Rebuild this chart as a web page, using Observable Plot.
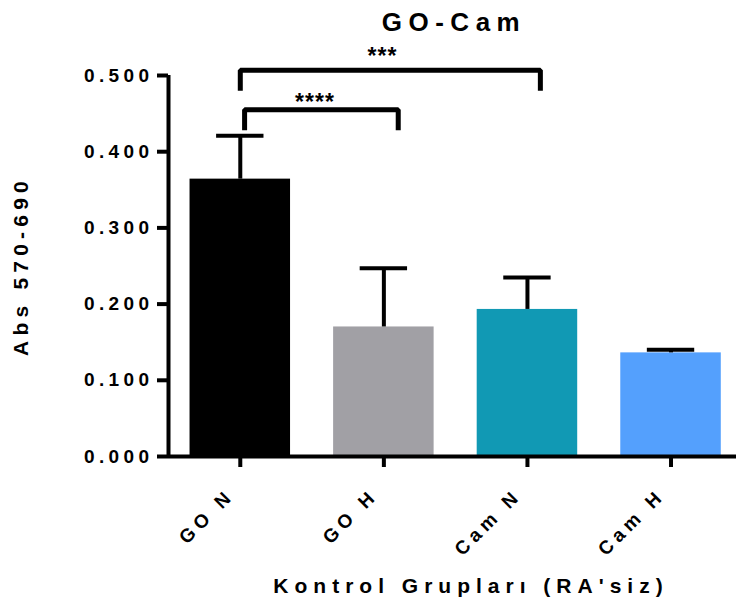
<!DOCTYPE html>
<html>
<head>
<meta charset="utf-8">
<script src="https://cdn.jsdelivr.net/npm/d3@7"></script>
<script src="https://cdn.jsdelivr.net/npm/@observablehq/plot@0.6"></script>
<style>
  html, body { margin: 0; padding: 0; background: #fff; }
  body { width: 736px; height: 616px; overflow: hidden; font-family: "Liberation Sans", Arial, sans-serif; font-weight: bold; color: #000; }
  #title { height: 40px; line-height: 45px; font-size: 26px; letter-spacing: 6.5px; text-align: center; padding-left: 172px; box-sizing: border-box; width: 736px; white-space: nowrap; }
  #chart svg { display: block; }
  #xlabel { height: 56px; line-height: 52px; font-size: 21px; letter-spacing: 6px; text-align: center; padding-left: 206px; box-sizing: border-box; width: 736px; white-space: nowrap; }
  .ylab text { letter-spacing: 5.2px; }
  g[aria-label="y-axis tick label"] text { letter-spacing: 4.4px; }
  .xticklab text { letter-spacing: 5px; }
  .stars text { letter-spacing: 1px; }
</style>
</head>
<body>
<div id="title">GO-Cam</div>
<div id="chart"></div>
<div id="xlabel">Kontrol Grupları (RA'siz)</div>
<script>
// ---- data ----
const categories = ["GO N", "GO H", "Cam N", "Cam H"];
const means = [0.364, 0.170, 0.193, 0.136];
const errors = [0.057, 0.077, 0.042, 0.004];
const barColors = ["#000000", "#a1a0a5", "#1199b4", "#54a0fd"];
const yTicks = [0, 0.1, 0.2, 0.3, 0.4, 0.5];
const yLabel = "Abs 570-690";
// significance brackets (x in group-index units, y in absorbance units)
const bracketLabels = ["***", "****"];
const bracketFrom = [0, 0.03];
const bracketTo = [2.09, 1.1];
const bracketTop = [0.507, 0.455];
const bracketLeg = [0.480, 0.428];
const bracketLabelX = [0.99, 0.52];
const bracketLabelY = [0.525, 0.465];

const bars = categories.map((c, i) => ({i, name: c, mean: means[i], err: errors[i], color: barColors[i]}));
const half = 0.35, capHalf = 0.165;

const bracketPaths = [];
bracketLabels.forEach((lab, k) => {
  bracketPaths.push({k, x: bracketFrom[k], y: bracketLeg[k]});
  bracketPaths.push({k, x: bracketFrom[k], y: bracketTop[k]});
  bracketPaths.push({k, x: bracketTo[k], y: bracketTop[k]});
  bracketPaths.push({k, x: bracketTo[k], y: bracketLeg[k]});
});
const bracketText = bracketLabels.map((lab, k) => ({lab, x: bracketLabelX[k], y: bracketLabelY[k]}));

const cls = (mark, name) => { const r = mark.render; mark.render = function() { const g = r.apply(this, arguments); if (g) g.classList.add(name); return g; }; return mark; };

const plot = Plot.plot({
  width: 736,
  height: 520,
  marginLeft: 168,
  marginRight: 0,
  marginTop: 35,
  marginBottom: 104,
  style: {fontFamily: "Liberation Sans, Arial, sans-serif", fontWeight: "bold", color: "#000", background: "#fff", overflow: "visible"},
  x: {type: "linear", domain: [-0.5, 3.456], axis: null},
  y: {domain: [0, 0.5], axis: null},
  color: {type: "identity"},
  marks: [
    Plot.rectY(bars, {x1: d => d.i - half, x2: d => d.i + half, y1: 0, y2: "mean", fill: "color"}),
    // error bars (upper only)
    Plot.ruleX(bars, {x: "i", y1: "mean", y2: d => d.mean + d.err, stroke: "#000", strokeWidth: 4}),
    Plot.ruleY(bars, {x1: d => d.i - capHalf, x2: d => d.i + capHalf, y: d => d.mean + d.err, stroke: "#000", strokeWidth: 4}),
    // y axis
    Plot.axisY({ticks: yTicks, tickFormat: d3.format(".3f"), tickSize: 11, tickPadding: 4, strokeWidth: 4, fontSize: 19, label: null}),
    cls(Plot.text([yLabel], {frameAnchor: "left", textAnchor: "middle", lineAnchor: "middle", rotate: -90, dx: -147, fontSize: 21, fontWeight: "bold", fill: "#000"}), "ylab"),
    // x axis ticks and rotated labels
    Plot.axisX({ticks: [0, 1, 2, 3], tickFormat: () => "", tickSize: 11, strokeWidth: 4, label: null}),
    cls(Plot.text(bars, {x: "i", text: "name", frameAnchor: "bottom", rotate: -45, textAnchor: "end", dx: -5, dy: 40, fontSize: 19, fontWeight: "bold", fill: "#000"}), "xticklab"),
    Plot.ruleX([-0.5], {y1: 0, y2: 0.5, stroke: "#000", strokeWidth: 4}),
    Plot.ruleY([0], {stroke: "#000", strokeWidth: 4}),
    // significance brackets
    Plot.line(bracketPaths, {x: "x", y: "y", z: "k", stroke: "#000", strokeWidth: 5, strokeLinejoin: "miter", strokeLinecap: "butt"}),
    cls(Plot.text(bracketText, {x: "x", y: "y", text: "lab", fontSize: 23, fontWeight: "bold", fill: "#000"}), "stars")
  ]
});
document.getElementById("chart").appendChild(plot);
</script>
</body>
</html>
